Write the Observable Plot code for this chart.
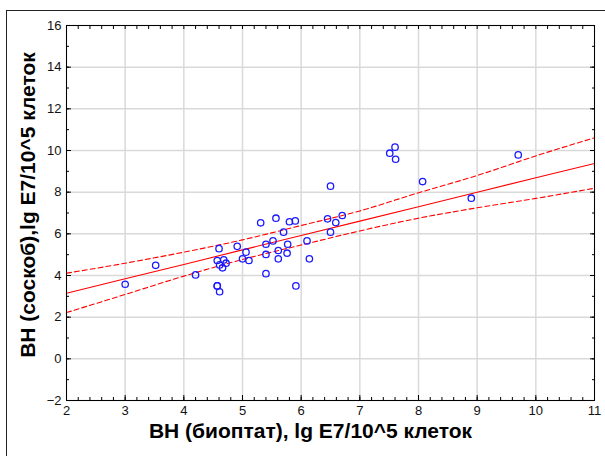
<!DOCTYPE html>
<html>
<head>
<meta charset="utf-8">
<script src="https://cdn.jsdelivr.net/npm/d3@7"></script>
<script src="https://cdn.jsdelivr.net/npm/@observablehq/plot@0.6"></script>
<style>
  html, body { margin: 0; padding: 0; background: #fff; overflow: hidden; }
  #wrap { position: relative; width: 605px; height: 456px; }
  #border { position: absolute; left: 6px; top: 10px; width: 620px; height: 470px; border-left: 1px solid #222; border-top: 1px solid #222; }
  #chart { position: absolute; left: 0; top: 0; }
</style>
</head>
<body>
<div id="wrap"><div id="border"></div><div id="chart"></div></div>
<script>
// Scatter points: biopsy (x) vs scraping (y)
const biopsy = [3.00, 3.52, 4.20, 4.57, 4.61, 4.60, 4.91, 5.06, 5.00, 5.11,
  4.57, 4.68, 4.72, 4.61, 4.66, 5.31, 5.57, 5.80, 5.90, 5.70,
  5.52, 5.40, 5.77, 6.10, 5.61, 5.40, 5.76, 5.61, 6.14, 5.40,
  4.57, 5.91, 6.45, 6.50, 6.50, 6.59, 6.70, 7.51, 7.60, 7.61,
  8.07, 8.90, 9.70];
const scraping = [3.58, 4.49, 4.03, 3.50, 3.22, 5.29, 5.40, 5.12, 4.80, 4.72,
  4.72, 4.75, 4.59, 4.51, 4.37, 6.53, 6.75, 6.58, 6.62, 6.08,
  5.66, 5.50, 5.50, 5.66, 5.20, 5.01, 5.07, 4.80, 4.80, 4.09,
  3.50, 3.50, 6.72, 6.08, 8.29, 6.54, 6.88, 9.87, 10.16, 9.58,
  8.51, 7.71, 9.79];

// Regression line and 95% confidence band
const bandX  = [2, 3, 4, 5, 6, 7, 8, 9, 10, 11];
const fitY   = [3.15, 3.84, 4.53, 5.23, 5.92, 6.61, 7.30, 8.00, 8.69, 9.38];
const upperY = [4.11, 4.59, 5.12, 5.71, 6.40, 7.10, 7.97, 8.80, 9.74, 10.61];
const lowerY = [2.22, 3.09, 3.97, 4.77, 5.46, 6.14, 6.75, 7.25, 7.70, 8.19];

const xTicks = [2, 3, 4, 5, 6, 7, 8, 9, 10, 11];
const yTicks = [-2, 0, 2, 4, 6, 8, 10, 12, 14, 16];
const xMinor = d3.range(20, 111, 2).map(v => v / 10);
const yMinor = d3.range(-2, 17, 1);

const xTitle = "ВН (биоптат), lg E7/10^5 клеток";
const yTitle = "ВН (соскоб),lg E7/10^5 клеток";

const points = biopsy.map((x, i) => ({x, y: scraping[i]}));
const band = bandX.map((x, i) => ({x, fit: fitY[i], up: upperY[i], lo: lowerY[i]}));

const gridStyle = {stroke: "#d9d9d9", strokeOpacity: 1, strokeWidth: 1.5};
const tickFont = {fontSize: 13, fill: "#111"};
const blank = () => "";

const chart = Plot.plot({
  width: 605,
  height: 456,
  marginLeft: 66,
  marginRight: 11,
  marginTop: 25,
  marginBottom: 56,
  style: {fontFamily: "'Liberation Sans', Arial, sans-serif", background: "transparent"},
  x: {domain: [2, 11]},
  y: {domain: [-2, 16]},
  marks: [
    Plot.gridX(xTicks, gridStyle),
    Plot.gridY(yTicks, gridStyle),
    // labels
    Plot.axisX(xTicks, {anchor: "bottom", tickSize: 0, tickPadding: 5, label: null, ...tickFont}),
    Plot.axisY(yTicks, {anchor: "left", tickSize: 0, tickPadding: 5, label: null, ...tickFont}),
    // inward ticks on all sides
    Plot.axisX(xMinor, {anchor: "bottom", tickSize: -3, tickFormat: blank, label: null, stroke: "#000"}),
    Plot.axisX(xTicks, {anchor: "bottom", tickSize: -5, tickFormat: blank, label: null, stroke: "#000"}),
    Plot.axisX(xMinor, {anchor: "top", tickSize: -3, tickFormat: blank, label: null, stroke: "#000"}),
    Plot.axisY(yMinor, {anchor: "left", tickSize: -3, tickFormat: blank, label: null, stroke: "#000"}),
    Plot.axisY(yTicks, {anchor: "left", tickSize: -5, tickFormat: blank, label: null, stroke: "#000"}),
    Plot.axisY(yMinor, {anchor: "right", tickSize: -3, tickFormat: blank, label: null, stroke: "#000"}),
    Plot.axisY(yTicks, {anchor: "right", tickSize: -5, tickFormat: blank, label: null, stroke: "#000"}),
    // confidence band and fit
    Plot.line(band, {x: "x", y: "up", stroke: "#ff0000", strokeWidth: 1.1, strokeDasharray: "5,3", curve: "monotone-x"}),
    Plot.line(band, {x: "x", y: "lo", stroke: "#ff0000", strokeWidth: 1.1, strokeDasharray: "5,3", curve: "monotone-x"}),
    Plot.line(band, {x: "x", y: "fit", stroke: "#ff0000", strokeWidth: 1.1}),
    // points
    Plot.dot(points, {x: "x", y: "y", r: 3.2, stroke: "#1a1aff", strokeWidth: 1.3, fill: "none"}),
    Plot.frame({stroke: "#000", strokeWidth: 1}),
    // axis titles
    Plot.text([xTitle], {frameAnchor: "bottom", lineAnchor: "middle", textAnchor: "middle", dx: -20, dy: 31, fontSize: 21, fontWeight: "bold", fill: "#000", text: d => d}),
    Plot.text([yTitle], {frameAnchor: "left", lineAnchor: "middle", textAnchor: "middle", dx: -38, dy: -8, rotate: -90, fontSize: 21, fontWeight: "bold", fill: "#000", text: d => d})
  ]
});
document.getElementById("chart").appendChild(chart);
</script>
</body>
</html>
